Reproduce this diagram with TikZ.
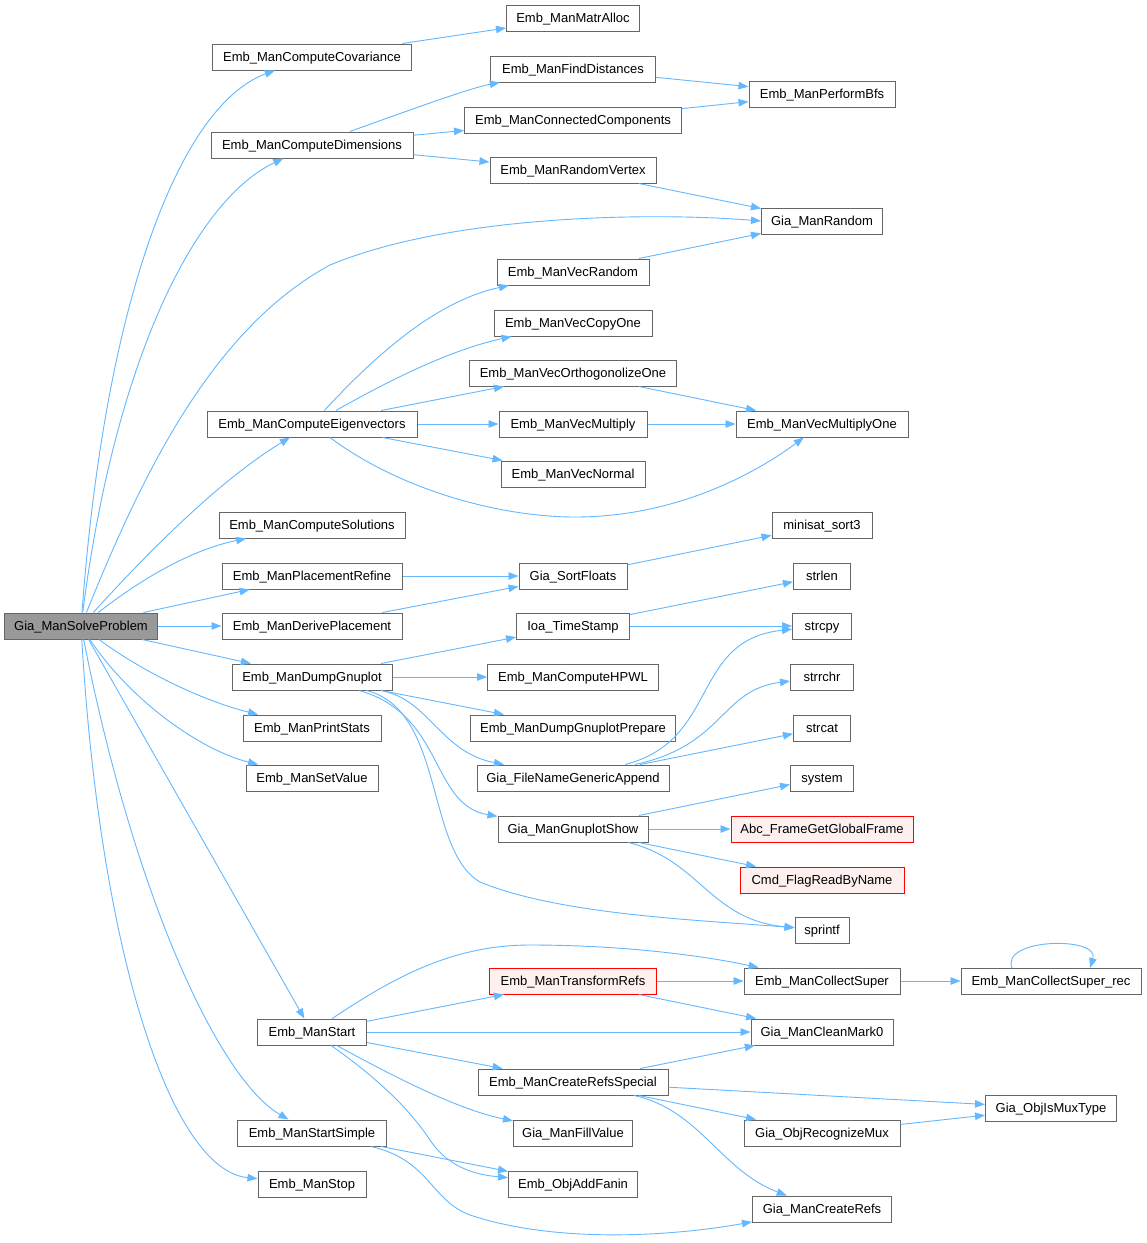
\documentclass[tikz,border=0pt]{standalone}
\usepackage{fontspec}
\setmainfont{Liberation Sans}
\usetikzlibrary{arrows.meta}
\definecolor{edgec}{HTML}{63B8FF}
\definecolor{boxc}{HTML}{666666}
\definecolor{rootc}{HTML}{999999}
\definecolor{redfill}{HTML}{FFF0F0}
\begin{document}
\begin{tikzpicture}[x=1pt,y=-1pt,
  box/.style={draw=boxc, fill=white, line width=1pt, minimum height=26pt, inner sep=0pt, text height=10pt, text depth=1pt, font=\fontsize{13}{15}\selectfont, text=black},
  rootbox/.style={box, fill=rootc},
  redbox/.style={box, draw=red, fill=redfill},
  edge/.style={draw=edgec, line width=0.9pt, -{Triangle[length=10pt,width=7.5pt]}}]
\useasboundingbox (0,0) rectangle (1147,1243);
\fill[white] (0,0) rectangle (1147,1243);
% nodes
\node[rootbox, minimum width=153pt] (root) at (81,626) {Gia\_ManSolveProblem};
\node[box, minimum width=133pt] (matr) at (573,18) {Emb\_ManMatrAlloc};
\node[box, minimum width=199pt] (cov) at (312,57) {Emb\_ManComputeCovariance};
\node[box, minimum width=165pt] (find) at (573,69) {Emb\_ManFindDistances};
\node[box, minimum width=146pt] (bfs) at (822,94) {Emb\_ManPerformBfs};
\node[box, minimum width=217pt] (conn) at (573,120) {Emb\_ManConnectedComponents};
\node[box, minimum width=202pt] (dim) at (312,145) {Emb\_ManComputeDimensions};
\node[box, minimum width=166pt] (rvert) at (573,170) {Emb\_ManRandomVertex};
\node[box, minimum width=121pt] (rand) at (822,221) {Gia\_ManRandom};
\node[box, minimum width=152pt] (vrand) at (573,272) {Emb\_ManVecRandom};
\node[box, minimum width=158pt] (vcopy) at (573,323) {Emb\_ManVecCopyOne};
\node[box, minimum width=207pt] (vorth) at (573,373) {Emb\_ManVecOrthogonolizeOne};
\node[box, minimum width=210pt] (eig) at (312,424) {Emb\_ManComputeEigenvectors};
\node[box, minimum width=148pt] (vmul) at (573,424) {Emb\_ManVecMultiply};
\node[box, minimum width=172pt] (vmulone) at (822,424) {Emb\_ManVecMultiplyOne};
\node[box, minimum width=144pt] (vnorm) at (573,474) {Emb\_ManVecNormal};
\node[box, minimum width=186pt] (sol) at (312,525) {Emb\_ManComputeSolutions};
\node[box, minimum width=100pt] (msort) at (822,525) {minisat\_sort3};
\node[box, minimum width=180pt] (prefine) at (312,576) {Emb\_ManPlacementRefine};
\node[box, minimum width=108pt] (sortf) at (573,576) {Gia\_SortFloats};
\node[box, minimum width=57pt] (strlen) at (822,576) {strlen};
\node[box, minimum width=180pt] (dplace) at (312,626) {Emb\_ManDerivePlacement};
\node[box, minimum width=113pt] (tstamp) at (573,626) {Ioa\_TimeStamp};
\node[box, minimum width=59pt] (strcpy) at (822,626) {strcpy};
\node[box, minimum width=160pt] (dgnu) at (312,677) {Emb\_ManDumpGnuplot};
\node[box, minimum width=171pt] (hpwl) at (573,677) {Emb\_ManComputeHPWL};
\node[box, minimum width=63pt] (strrchr) at (822,677) {strrchr};
\node[box, minimum width=138pt] (pstats) at (312,728) {Emb\_ManPrintStats};
\node[box, minimum width=205pt] (dgprep) at (573,728) {Emb\_ManDumpGnuplotPrepare};
\node[box, minimum width=57pt] (strcat) at (822,728) {strcat};
\node[box, minimum width=132pt] (setv) at (312,778) {Emb\_ManSetValue};
\node[box, minimum width=192pt] (fname) at (573,778) {Gia\_FileNameGenericAppend};
\node[box, minimum width=63pt] (system) at (822,778) {system};
\node[box, minimum width=150pt] (gshow) at (573,829) {Gia\_ManGnuplotShow};
\node[redbox, minimum width=182pt] (abc) at (822,829) {Abc\_FrameGetGlobalFrame};
\node[redbox, minimum width=164pt] (cmd) at (822,880) {Cmd\_FlagReadByName};
\node[box, minimum width=54pt] (sprintf) at (822,930) {sprintf};
\node[redbox, minimum width=167pt] (trefs) at (573,981) {Emb\_ManTransformRefs};
\node[box, minimum width=156pt] (csup) at (822,981) {Emb\_ManCollectSuper};
\node[box, minimum width=180pt] (csrec) at (1051,981) {Emb\_ManCollectSuper\_rec};
\node[box, minimum width=109pt] (start) at (312,1032) {Emb\_ManStart};
\node[box, minimum width=142pt] (clean) at (822,1032) {Gia\_ManCleanMark0};
\node[box, minimum width=190pt] (crs) at (573,1082) {Emb\_ManCreateRefsSpecial};
\node[box, minimum width=131pt] (ismux) at (1051,1108) {Gia\_ObjIsMuxType};
\node[box, minimum width=149pt] (ssimple) at (312,1133) {Emb\_ManStartSimple};
\node[box, minimum width=119pt] (fill) at (573,1133) {Gia\_ManFillValue};
\node[box, minimum width=156pt] (recmux) at (822,1133) {Gia\_ObjRecognizeMux};
\node[box, minimum width=108pt] (stop) at (312,1184) {Emb\_ManStop};
\node[box, minimum width=129pt] (addfanin) at (573,1184) {Emb\_ObjAddFanin};
\node[box, minimum width=139pt] (crefs) at (822,1209) {Gia\_ManCreateRefs};
% helper coordinates
\coordinate (r1) at (330,265);
\coordinate (e1) at (575,517);
\coordinate (d1) at (480,882);
\coordinate (s1) at (530,945);
\coordinate (a1) at (430,1140);
\coordinate (ss1) at (470,1215);
\coordinate (lp1) at (1012,968);
\coordinate (lp2) at (1090,968);
% edges from root
\draw[edge] (root) .. controls (105,300) and (180,105) .. (cov);
\draw[edge] (root) .. controls (115,360) and (195,200) .. (dim);
\draw[edge, -] (root) .. controls (140,480) and (210,330) .. (r1);
\draw[edge] (r1) .. controls (450,215) and (650,212) .. (rand.west);
\draw[edge] (root) .. controls (150,550) and (220,480) .. (eig);
\draw[edge] (root) .. controls (140,580) and (190,550) .. (sol);
\draw[edge] (root) -- (prefine);
\draw[edge] (root) -- (dplace);
\draw[edge] (root) -- (dgnu);
\draw[edge] (root) .. controls (140,670) and (200,700) .. (pstats);
\draw[edge] (root) .. controls (130,700) and (200,750) .. (setv);
\draw[edge] (root) -- (start);
\draw[edge] (root) .. controls (135,900) and (220,1080) .. (ssimple);
\draw[edge] (root) .. controls (100,950) and (170,1170) .. (stop);
% upper part
\draw[edge] (cov) -- (matr);
\draw[edge] (dim) .. controls (410,110) and (470,88) .. (find);
\draw[edge] (dim) -- (conn);
\draw[edge] (dim) -- (rvert);
\draw[edge] (find) -- (bfs);
\draw[edge] (conn) -- (bfs);
\draw[edge] (rvert) -- (rand);
\draw[edge] (vrand) -- (rand);
\draw[edge] (eig) .. controls (380,350) and (440,300) .. (vrand);
\draw[edge] (eig) .. controls (390,380) and (450,350) .. (vcopy);
\draw[edge] (eig) -- (vorth);
\draw[edge] (eig) -- (vmul);
\draw[edge] (eig) -- (vnorm);
\draw[edge, -] (eig) .. controls (400,490) and (500,517) .. (e1);
\draw[edge] (e1) .. controls (680,517) and (760,470) .. (vmulone);
\draw[edge] (vorth) -- (vmulone);
\draw[edge] (vmul) -- (vmulone);
% middle part
\draw[edge] (prefine) -- (sortf);
\draw[edge] (dplace) -- (sortf);
\draw[edge] (sortf) -- (msort);
\draw[edge] (dgnu) -- (tstamp);
\draw[edge] (tstamp) -- (strlen);
\draw[edge] (tstamp) -- (strcpy);
\draw[edge] (dgnu) -- (hpwl);
\draw[edge] (dgnu) -- (dgprep);
\draw[edge] (dgnu) .. controls (430,700) and (440,752) .. (fname);
\draw[edge] (dgnu) .. controls (445,715) and (430,805) .. (gshow);
\draw[edge, -] (dgnu) .. controls (445,710) and (425,850) .. (d1);
\draw[edge] (d1) .. controls (560,915) and (700,920) .. (sprintf);
\draw[edge] (fname) .. controls (720,740) and (690,640) .. (strcpy);
\draw[edge] (fname) .. controls (725,745) and (720,690) .. (strrchr);
\draw[edge] (fname) -- (strcat);
\draw[edge] (gshow) -- (system);
\draw[edge] (gshow) -- (abc);
\draw[edge] (gshow) -- (cmd);
\draw[edge] (gshow) .. controls (700,860) and (710,920) .. (sprintf);
% lower part
\draw[edge, -] (start) .. controls (390,980) and (450,945) .. (s1);
\draw[edge] (s1) .. controls (620,945) and (700,955) .. (csup);
\draw[edge] (start) -- (trefs);
\draw[edge] (start) -- (clean);
\draw[edge] (start) -- (crs);
\draw[edge] (start) .. controls (400,1080) and (460,1110) .. (fill);
\draw[edge, -] (start) .. controls (380,1080) and (410,1110) .. (a1);
\draw[edge] (a1) .. controls (450,1170) and (480,1175) .. (addfanin);
\draw[edge] (trefs) -- (csup);
\draw[edge] (trefs) -- (clean);
\draw[edge] (csup) -- (csrec);
\draw[edge] (lp1) .. controls (1000,938) and (1100,936) .. (lp2);
\draw[edge] (crs) -- (clean);
\draw[edge] (crs) -- (ismux);
\draw[edge] (crs) -- (recmux);
\draw[edge] (crs) .. controls (700,1110) and (720,1170) .. (crefs);
\draw[edge] (recmux) -- (ismux);
\draw[edge] (ssimple) -- (addfanin);
\draw[edge, -] (ssimple) .. controls (430,1160) and (430,1200) .. (ss1);
\draw[edge] (ss1) .. controls (560,1245) and (680,1235) .. (crefs);
\end{tikzpicture}
\end{document}
